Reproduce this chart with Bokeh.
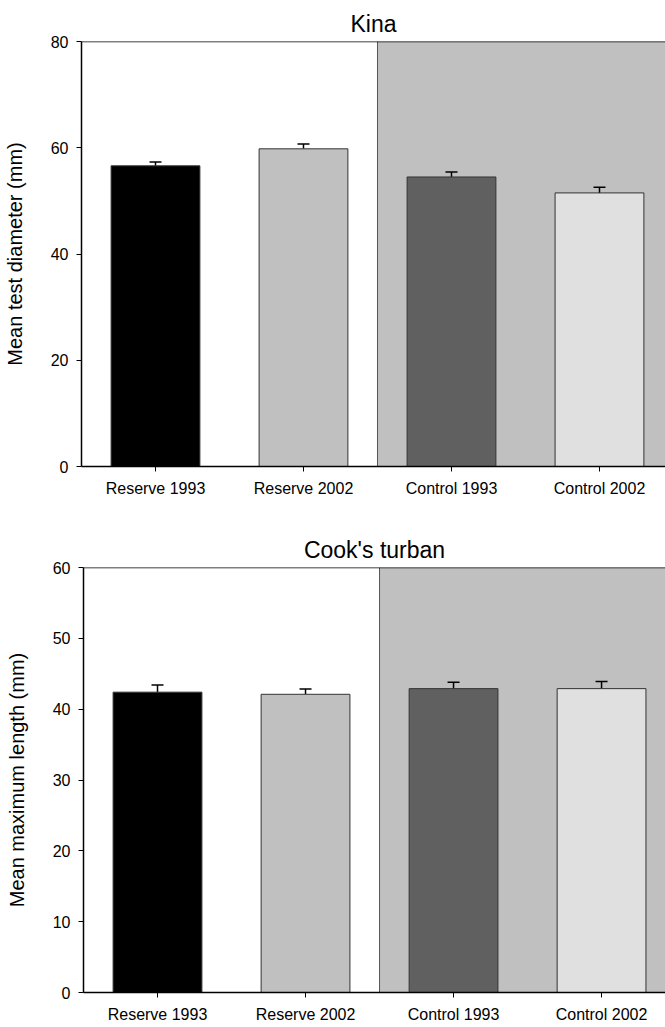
from bokeh.plotting import figure
from bokeh.layouts import column, row
from bokeh.models import (ColumnDataSource, FixedTicker, BoxAnnotation, Span,
                          Whisker, TeeHead, Range1d)
from bokeh.embed import file_html
from bokeh.resources import INLINE

# Mean sizes (± SE) of kina and Cook's turban inside and outside the reserve
categories = ["Reserve 1993", "Reserve 2002", "Control 1993", "Control 2002"]
kina_mean = [56.6, 59.8, 54.5, 51.5]
kina_se = [0.7, 0.9, 0.95, 1.05]
turban_mean = [42.4, 42.1, 42.9, 42.9]
turban_se = [1.0, 0.75, 0.9, 1.0]
bar_colors = ["#000000", "#c0c0c0", "#606060", "#e0e0e0"]

kina_ticks = [0, 20, 40, 60, 80]
turban_ticks = [0, 10, 20, 30, 40, 50, 60]

FONT = "Liberation Sans"


def panel(title, ylabel, means, ses, yticks, x_end, left, top, bottom):
    xs = list(range(len(categories)))
    src = ColumnDataSource(dict(
        x=xs, top=means, upper=[m + s for m, s in zip(means, ses)],
        color=bar_colors))
    p = figure(width=665, height=top + 425 + bottom,
               min_border_left=left, min_border_right=0,
               min_border_top=top, min_border_bottom=bottom,
               x_range=Range1d(-0.5, x_end),
               y_range=Range1d(yticks[0], yticks[-1]),
               output_backend="svg", toolbar_location=None,
               background_fill_color="white", border_fill_color="white")
    p.outline_line_color = None
    p.grid.visible = False

    # control area shaded grey
    p.add_layout(BoxAnnotation(left=1.5, fill_color="#c0c0c0", fill_alpha=1.0,
                               line_color=None, level="underlay"))
    p.add_layout(Span(location=1.5, dimension="height", line_color="#555555",
                      line_width=1, level="underlay"))
    # top border of the frame
    p.add_layout(Span(location=yticks[-1], dimension="width",
                      line_color="black", line_width=1.5))

    p.vbar(x="x", top="top", bottom=0, width=0.6, source=src,
           fill_color="color", line_color="#333333", line_width=1)
    p.add_layout(Whisker(source=src, base="x", upper="upper", lower="top",
                         upper_head=TeeHead(size=12, line_color="black",
                                            line_width=1.5),
                         lower_head=None, line_color="black", line_width=1.5))

    p.title.text = title
    p.title.align = "center"
    p.title.offset = 5
    p.title.standoff = 9
    p.title.text_font = FONT
    p.title.text_font_size = "23px"
    p.title.text_font_style = "normal"
    p.title.text_color = "black"

    p.xaxis.ticker = FixedTicker(ticks=xs)
    p.xaxis.major_label_overrides = {i: c for i, c in enumerate(categories)}
    p.yaxis.ticker = FixedTicker(ticks=yticks)
    p.yaxis.axis_label = ylabel
    p.yaxis.axis_label_standoff = 22
    p.yaxis.axis_label_text_font = FONT
    p.yaxis.axis_label_text_font_size = "20px"
    p.yaxis.axis_label_text_font_style = "normal"
    p.yaxis.axis_label_text_color = "black"
    for ax in (p.xaxis, p.yaxis):
        ax.axis_line_color = "black"
        ax.axis_line_width = 1.5
        ax.major_tick_line_color = "black"
        ax.major_tick_out = 5
        ax.major_tick_in = 0
        ax.minor_tick_line_color = None
        ax.major_label_text_font = FONT
        ax.major_label_text_font_size = "16px"
        ax.major_label_text_color = "black"
    p.yaxis.major_label_standoff = 8
    p.xaxis.major_label_standoff = 8
    return p


p1 = panel("Kina", "Mean test diameter (mm)", kina_mean, kina_se,
           kina_ticks, 3.446, 80, 41, 34)
p2 = panel("Cook's turban", "Mean maximum length (mm)", turban_mean, turban_se,
           turban_ticks, 3.432, 83, 67, 35)

# each panel in its own row so the two frames keep their own left edges
layout = column(row(p1), row(p2), spacing=0)
open("out.html", "w").write(file_html(layout, INLINE))
